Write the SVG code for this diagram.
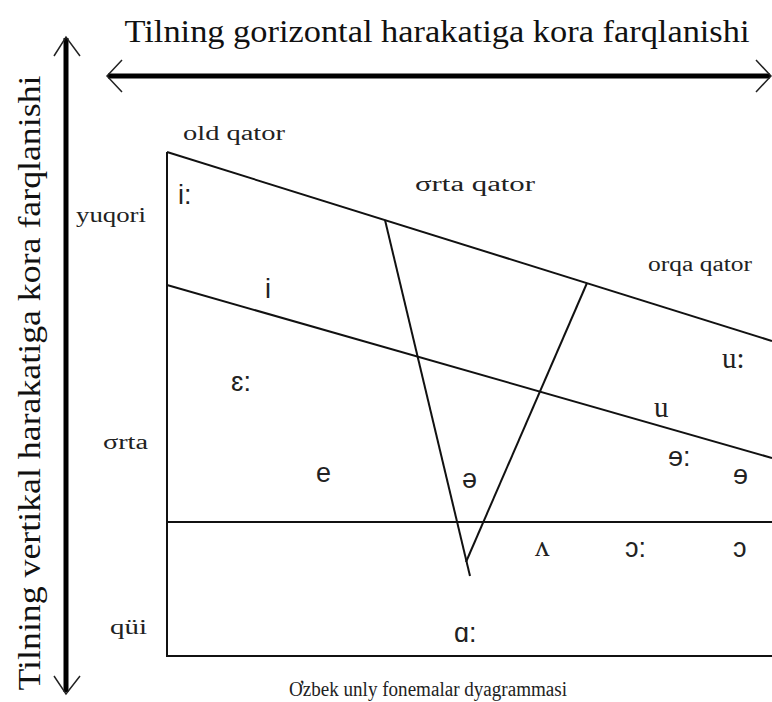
<svg xmlns="http://www.w3.org/2000/svg" width="772" height="702" viewBox="0 0 772 702">
<style>
.title{font-family:"Liberation Serif","Times New Roman",serif;font-size:31px;fill:#111}
.lab{font-family:"Liberation Serif","Times New Roman",serif;font-size:20px;fill:#222}
.v{font-family:"Liberation Sans",Arial,sans-serif;font-size:27px;fill:#222}
.vs{font-family:"Liberation Serif","Times New Roman",serif;font-size:29px;fill:#222}
.ln{stroke:#111;stroke-width:2;fill:none}
.arr{stroke:#000;stroke-width:5;fill:none}
.head{stroke:#222;stroke-width:1.5;fill:none}
</style>
<rect width="772" height="702" fill="#fff"/>
<g id="axes">
<line class="arr" x1="108" y1="76" x2="770" y2="76"/>
<polyline class="head" points="122,60 107,76 122,92"/>
<polyline class="head" points="756,60 771,76 756,92"/>
<line class="arr" x1="66" y1="38" x2="66" y2="692"/>
<polyline class="head" points="54,56 66,37 80,56"/>
<polyline class="head" points="54,676 66,694 80,676"/>
</g>
<g id="titles">
<text class="title" x="437" y="42" text-anchor="middle" textLength="625" lengthAdjust="spacingAndGlyphs">Tilning gorizontal harakatiga kora farqlanishi</text>
<text class="title" transform="translate(40,383) rotate(-90)" text-anchor="middle" textLength="615" lengthAdjust="spacingAndGlyphs">Tilning vertikal harakatiga kora farqlanishi</text>
<text class="lab" x="428" y="696" text-anchor="middle" font-size="24" textLength="278" lengthAdjust="spacingAndGlyphs">Ơzbek unly fonemalar dyagrammasi</text>
</g>
<g id="connectors">
<line class="ln" x1="167" y1="152" x2="167" y2="656"/>
<line class="ln" x1="166" y1="656" x2="772" y2="656"/>
<line class="ln" x1="167" y1="522" x2="772" y2="522"/>
<line class="ln" x1="167" y1="152" x2="772" y2="341"/>
<line class="ln" x1="167" y1="285" x2="772" y2="458"/>
<line class="ln" x1="385" y1="220" x2="470" y2="576"/>
<line class="ln" x1="587" y1="283" x2="466" y2="562"/>
</g>
<g id="labels">
<text class="lab" x="183" y="140" textLength="102" lengthAdjust="spacingAndGlyphs">old qator</text>
<text class="lab" x="415" y="191" textLength="120" lengthAdjust="spacingAndGlyphs">σrta qator</text>
<text class="lab" x="648" y="271" textLength="104" lengthAdjust="spacingAndGlyphs">orqa qator</text>
<text class="lab" x="76" y="222" font-size="19" textLength="70" lengthAdjust="spacingAndGlyphs">yuqori</text>
<text class="lab" x="103" y="449" font-size="19" textLength="45" lengthAdjust="spacingAndGlyphs">σrta</text>
<text class="lab" x="110" y="634" font-size="19" textLength="37" lengthAdjust="spacingAndGlyphs">qüi</text>
</g>
<g id="vowels">
<text class="v" x="178" y="204">i:</text>
<text class="v" x="265" y="298">i</text>
<text class="v" x="231" y="391">ɛ:</text>
<text class="v" x="316" y="482">e</text>
<text class="v" x="462" y="488">ə</text>
<text class="vs" x="722" y="368">u:</text>
<text class="vs" x="654" y="417">u</text>
<text class="v" x="668" y="466">ɘ:</text>
<text class="v" x="733" y="484">ɘ</text>
<text class="vs" x="535" y="556">ʌ</text>
<text class="v" x="625" y="557">ɔ:</text>
<text class="v" x="733" y="557">ɔ</text>
<text class="v" x="454" y="642">ɑ:</text>
</g>
</svg>
